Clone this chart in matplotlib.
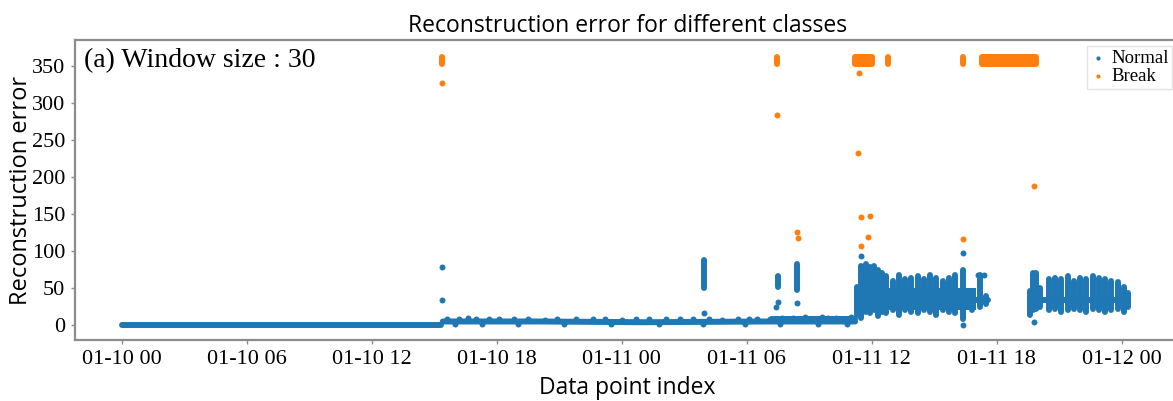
import matplotlib
matplotlib.use("Agg")
import matplotlib.pyplot as plt
import matplotlib.dates as mdates
import datetime as dt


#Data (hours after 01-10 00:00, reconstruction error)
start = dt.datetime(2020, 1, 10)

# normal class: flat run before the first break, then a low noisy run
base_t = [0.0, 15.3]
base_v = [0, 0]
low_t = [15.4, 20.0, 25.0, 31.0, 33.2, 35.2]
low_v = [5, 5, 4, 5, 5, 5]
high_t = [31.2, 35.2]
high_v = [8, 8]
wob_t = [15.6, 16.2, 16.6, 17.0, 17.6, 18.1, 18.8, 19.5, 20.3, 20.9, 21.8, 22.6,
         23.2, 24.0, 24.7, 25.3, 26.1, 26.8, 27.4, 28.2, 28.8, 29.6, 30.1, 30.5,
         31.1, 31.7, 32.2, 32.8, 33.1, 33.6, 33.9, 34.3, 34.6, 35.0]
wob_v = [9, 8, 10, 9, 8, 8, 9, 9, 7, 9, 8, 9, 8, 7, 9, 8, 9, 8, 8, 9, 7, 8, 9, 9,
         8, 10, 10, 11, 9, 11, 10, 10, 9, 11]
dip_t = [16.0, 17.3, 19.0, 21.2, 23.5, 25.8, 27.9, 29.9, 31.6, 33.4, 34.8]
dip_v = [2, 1, 2, 1, 2, 1, 2, 1, 2, 2, 1]

# normal class: columns of points (time, lowest, highest)
col_t = [27.95, 31.5, 32.4,
         35.3, 35.5, 35.7, 35.9, 36.1, 36.3, 36.5, 36.7, 37.0, 37.3, 37.6, 37.9,
         38.2, 38.5, 38.8, 39.1, 39.4, 39.7, 40.0, 40.4, 40.8, 41.2, 41.5,
         43.6, 43.75, 43.9, 44.1, 44.5, 44.8, 45.1, 45.4, 45.7, 46.0, 46.3, 46.6,
         46.9, 47.2, 47.5, 47.8, 48.1, 48.3]
col_lo = [50, 52, 48,
          14, 10, 18, 16, 20, 12, 18, 16, 20, 14, 20, 18,
          16, 20, 18, 14, 20, 18, 16, 8, 20, 24, 28,
          14, 20, 22, 24, 20, 22, 18, 20, 22, 20, 18, 22,
          20, 18, 20, 22, 18, 24]
col_hi = [88, 66, 82,
          52, 80, 82, 78, 80, 74, 70, 66, 60, 68, 62, 64,
          66, 62, 68, 64, 60, 64, 68, 74, 45, 68, 40,
          46, 71, 71, 50, 62, 64, 62, 66, 60, 64, 62, 66,
          64, 62, 60, 58, 52, 44]
core_t = [35.3, 41.0]
core_lo = 20
core_hi = 50
band_t = [[35.3, 41.6], [43.6, 48.3]]
band_v = 34

# normal class: single points
normal_t = [15.35, 15.35, 27.95, 31.4, 31.5, 32.4, 35.5, 40.4, 40.4, 43.8, 41.1, 41.4]
normal_v = [79, 34, 17, 25, 31, 30, 93, 97, 0, 4, 68, 68]

# break class
break_t = [15.35, 31.45, 35.4, 35.32, 35.5, 35.9, 35.8, 35.46, 40.4, 43.8, 32.4, 32.45]
break_v = [327, 284, 340, 232, 146, 148, 119, 107, 116, 188, 126, 118]
break_col_t = [15.35, 31.45, 36.8, 40.38]
break_lo = 352
break_hi = 362
break_run = [[35.2, 36.0], [41.3, 43.9]]


def to_date(hours):
    return [start + dt.timedelta(hours=h) for h in hours]


#Colors
blue = "#1f77b4"
orange = "#ff7f0e"
dot = 4.3

#Figure
fig = plt.figure(figsize=(11.73, 4.01), dpi=100)
ax = fig.add_axes([75 / 1173, 61 / 401, 1105 / 1173, 300 / 401])

ax.plot(to_date(base_t), base_v, color=blue, lw=dot, solid_capstyle="round")
ax.plot(to_date(low_t), low_v, color=blue, lw=dot, solid_capstyle="round")
ax.plot(to_date(high_t), high_v, color=blue, lw=dot, solid_capstyle="round")
ax.fill_between(to_date(core_t), core_lo, core_hi, color=blue, lw=0)
ax.vlines(to_date(col_t), col_lo, col_hi, color=blue, lw=dot, capstyle="round")
for seg in band_t:
    ax.plot(to_date(seg), [band_v, band_v], color=blue, lw=dot, solid_capstyle="round")
ax.scatter(to_date(wob_t), wob_v, s=dot ** 2, color=blue, lw=0)
ax.scatter(to_date(dip_t), dip_v, s=dot ** 2, color=blue, lw=0)
ax.scatter(to_date(normal_t), normal_v, s=dot ** 2, color=blue, lw=0, label="Normal")

ax.vlines(to_date(break_col_t), break_lo, break_hi, color=orange, lw=dot, capstyle="round")
for seg in break_run:
    ax.fill_between(to_date(seg), break_lo, break_hi, color=orange, lw=dot,
                    edgecolor=orange, joinstyle="round")
ax.scatter(to_date(break_t), break_v, s=dot ** 2, color=orange, lw=0, label="Break")

#Axes
ax.set_xlim(start - dt.timedelta(hours=2.26), start + dt.timedelta(hours=50.8))
ax.set_ylim(-20, 385)
ax.xaxis.set_major_locator(mdates.HourLocator(byhour=[0, 6, 12, 18]))
ax.xaxis.set_major_formatter(mdates.DateFormatter("%m-%d %H"))
ax.set_yticks([0, 50, 100, 150, 200, 250, 300, 350])

for side in ["left", "top", "bottom", "right"]:
    ax.spines[side].set_color("#8c8c8c")
    ax.spines[side].set_linewidth(1.6)
ax.tick_params(length=3, width=1, color="#8c8c8c", pad=4)
for lab in ax.get_xticklabels() + ax.get_yticklabels():
    lab.set_fontfamily("Liberation Serif")
    lab.set_fontsize(16)

ax.set_title("Reconstruction error for different classes", fontsize=16.5,
             family="Open Sans", pad=6)
ax.set_xlabel("Data point index", fontsize=16.5, family="Open Sans", labelpad=5)
ax.set_ylabel("Reconstruction error", fontsize=17, family="Open Sans", labelpad=-1)

ax.text(0.008, 0.93, "(a) Window size : 30", transform=ax.transAxes,
        fontsize=20, family="Liberation Serif", va="center", ha="left")

ax.legend(loc="upper right", bbox_to_anchor=(0.993, 0.98),
          prop={"family": "Liberation Serif", "size": 13.5},
          markerscale=0.7, handlelength=0.8, handletextpad=0.3,
          labelspacing=0.05, borderpad=0.2, borderaxespad=0,
          frameon=True, edgecolor="#dddddd", fancybox=False)

plt.savefig("out.png", dpi=100)
